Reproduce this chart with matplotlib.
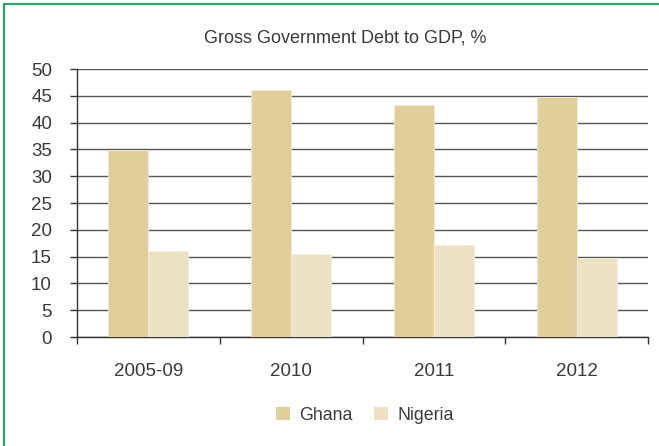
import matplotlib
matplotlib.use("Agg")
import matplotlib.pyplot as plt
from matplotlib.patches import Rectangle, Patch
import numpy as np

plt.rcParams['font.family'] = ['Liberation Sans', 'DejaVu Sans']

categories = ["2005-09", "2010", "2011", "2012"]
ghana = [34.9, 46.0, 43.3, 44.8]
nigeria = [16.0, 15.5, 17.2, 14.7]
series_names = ["Ghana", "Nigeria"]
y_ticks = [0, 5, 10, 15, 20, 25, 30, 35, 40, 45, 50]

GHANA_COLOR = "#E0CE9B"
NIGERIA_COLOR = "#ECE2C3"
TEXT_COLOR = "#3a3a3a"
GRID_COLOR = "#555555"

W, H = 659, 446
fig = plt.figure(figsize=(W / 100, H / 100), dpi=100)
fig.patch.set_facecolor("white")

# green frame along top and left edges
fig.add_artist(Rectangle((4 / W, -0.1), 1.2, 1 - 4 / H + 0.1, transform=fig.transFigure,
                         fill=False, edgecolor="#2EA466", linewidth=1.6))

ax = fig.add_axes([77 / W, 1 - 337 / H, (648 - 77) / W, (337 - 69) / H])

x = np.arange(len(categories))
bw = 0.28
ax.bar(x - bw / 2, ghana, width=bw, color=GHANA_COLOR, edgecolor="#F2EAD3", linewidth=0.6, zorder=3)
ax.bar(x + bw / 2, nigeria, width=bw, color=NIGERIA_COLOR, edgecolor="#F5EFDD", linewidth=0.6, zorder=3)

ax.set_xlim(-0.5, len(categories) - 0.5)
ax.set_ylim(0, 50)
ax.set_yticks(y_ticks)
ax.set_yticklabels([str(v) for v in y_ticks])
ax.yaxis.grid(True, color=GRID_COLOR, linewidth=1.0, zorder=1)
ax.set_axisbelow(True)

# category labels centered, ticks at category boundaries
ax.set_xticks(x)
ax.set_xticklabels(categories)
ax.tick_params(axis="x", which="major", length=0, pad=19)
ax.set_xticks(np.arange(-0.5, len(categories)), minor=True)
ax.tick_params(axis="x", which="minor", length=5, width=1.0, color="#333333", direction="out")
ax.tick_params(axis="y", length=5, width=1.0, color="#333333", pad=13, direction="out")
ax.tick_params(labelsize=13.5, labelcolor=TEXT_COLOR)

for side in ("top", "right"):
    ax.spines[side].set_visible(False)
for side in ("left", "bottom"):
    ax.spines[side].set_color("#333333")
    ax.spines[side].set_linewidth(1.0)

fig.text(345 / W, 1 - 38 / H, "Gross Government Debt to GDP, %", ha="center", va="center",
         fontsize=13, color=TEXT_COLOR)

handles = [Patch(facecolor=GHANA_COLOR, edgecolor="none"),
           Patch(facecolor=NIGERIA_COLOR, edgecolor="none")]
fig.legend(handles, series_names, loc="center", bbox_to_anchor=(365 / W, 1 - 415 / H),
           ncol=2, frameon=False, fontsize=12.8, labelcolor=TEXT_COLOR,
           handlelength=0.75, handleheight=0.75, handletextpad=0.55, columnspacing=1.2)

fig.savefig("out.png", dpi=100, facecolor="white")
